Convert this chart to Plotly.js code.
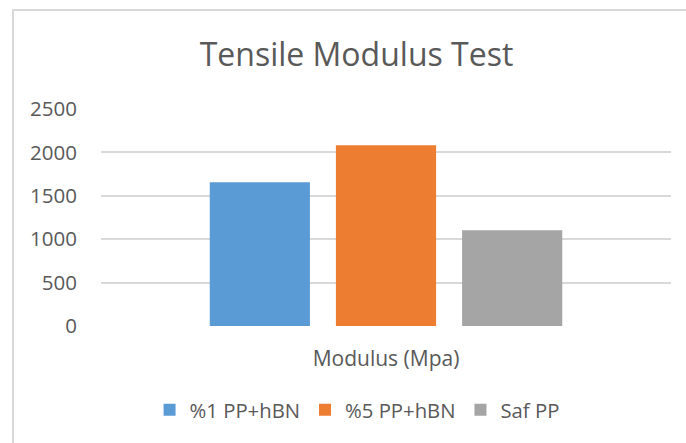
<!DOCTYPE html>
<html>
<head>
<meta charset="utf-8">
<script src="https://cdn.plot.ly/plotly-3.0.1.min.js"></script>
<style>
  html, body { margin: 0; padding: 0; background: #fff; }
  #wrap { position: relative; width: 686px; height: 443px; overflow: hidden; }
  #chart { position: absolute; left: 0; top: 0; width: 686px; height: 443px; }
  #frame { position: absolute; left: 12px; top: 9px; width: 700px; height: 460px;
           border-top: 2px solid #d9d9d9; border-left: 2px solid #d9d9d9; pointer-events: none; }
</style>
</head>
<body>
<div id="wrap">
  <div id="chart"></div>
  <div id="frame"></div>
</div>
<script>
const categories = ["Modulus (Mpa)"];
const seriesNames = ["%1 PP+hBN", "%5 PP+hBN", "Saf PP"];
const values1 = [1655];
const values5 = [2082];
const valuesSaf = [1102];
const yTicks = [0, 500, 1000, 1500, 2000, 2500];

const colors = ["#5B9BD5", "#ED7D31", "#A5A5A5"];
const seriesValues = [values1, values5, valuesSaf];
const FONT = "Open Sans, sans-serif";
const TXT = "#595959";

const data = seriesNames.map((name, i) => ({
  type: "bar",
  name: name,
  x: categories,
  y: seriesValues[i],
  marker: { color: colors[i], line: { width: 0 } },
  hoverinfo: "none"
}));

const layout = {
  width: 686,
  height: 443,
  paper_bgcolor: "rgba(0,0,0,0)",
  plot_bgcolor: "rgba(0,0,0,0)",
  margin: { l: 101, r: 15, t: 109, b: 117, pad: 0 },
  barmode: "group",
  bargap: 0.336,
  bargroupgap: 0.206,
  title: {
    text: "Tensile Modulus Test",
    font: { family: FONT, size: 32, color: TXT },
    xref: "container", yref: "container",
    x: 0.5197, xanchor: "center",
    y: 0.877, yanchor: "middle"
  },
  xaxis: {
    type: "category",
    showgrid: false,
    showline: false,
    zeroline: false,
    ticks: "outside",
    ticklen: 14,
    tickcolor: "rgba(0,0,0,0)",
    tickfont: { family: FONT, size: 21, color: TXT }
  },
  yaxis: {
    range: [0, 2500],
    tickvals: yTicks,
    ticktext: yTicks.map(String),
    showgrid: true,
    gridcolor: "#d9d9d9",
    gridwidth: 2,
    zeroline: false,
    showline: false,
    ticks: "outside",
    ticklen: 19,
    tickcolor: "rgba(0,0,0,0)",
    tickfont: { family: FONT, size: 20.5, color: TXT }
  },
  showlegend: true,
  legend: {
    orientation: "h",
    xref: "container", yref: "container",
    x: 0.5205, xanchor: "center",
    y: 0.0745, yanchor: "middle",
    font: { family: FONT, size: 20.3, color: TXT },
    bgcolor: "rgba(0,0,0,0)",
    itemwidth: 30,
    itemclick: false,
    itemdoubleclick: false,
    traceorder: "normal"
  }
};

Plotly.newPlot("chart", data, layout, { displayModeBar: false, staticPlot: true });
</script>
</body>
</html>
